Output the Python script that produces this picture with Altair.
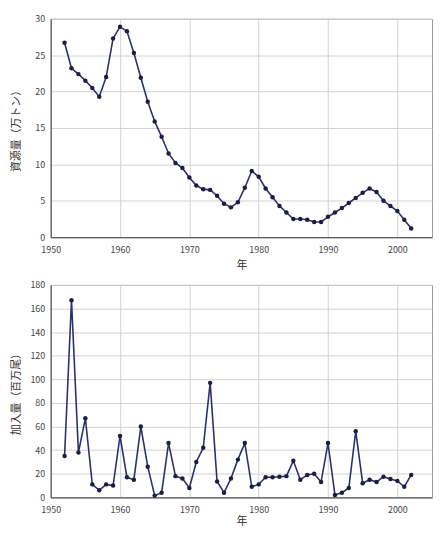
import altair as alt
import pandas as pd

years = list(range(1952, 2003))
biomass = [26.7, 23.2, 22.4, 21.5, 20.5, 19.3, 22.0, 27.3, 28.9, 28.3,
           25.3, 21.9, 18.6, 15.9, 13.8, 11.5, 10.2, 9.5, 8.2, 7.1,
           6.6, 6.5, 5.7, 4.6, 4.1, 4.8, 6.8, 9.1, 8.3, 6.7,
           5.5, 4.3, 3.4, 2.5, 2.5, 2.4, 2.1, 2.1, 2.8, 3.4,
           4.0, 4.7, 5.4, 6.1, 6.7, 6.2, 5.0, 4.3, 3.6, 2.4, 1.2]
recruit = [35, 167, 38, 67, 11, 6, 11, 10, 52, 17,
           15, 60, 26, 1.5, 4, 46, 18, 16, 8, 30,
           42, 97, 13.5, 4, 16, 32, 46, 9, 11, 17,
           17, 17.5, 18, 31, 15, 19, 20, 13, 46, 2,
           4, 8, 56, 12, 15, 13, 17.5, 15.5, 14, 9, 19]
x_ticks = [1950, 1960, 1970, 1980, 1990, 2000]
y1_ticks = [0, 5, 10, 15, 20, 25, 30]
y2_ticks = [0, 20, 40, 60, 80, 100, 120, 140, 160, 180]

df = pd.DataFrame({"year": years, "biomass": biomass, "recruit": recruit})

FONT = "Noto Sans CJK JP"
LINE = "#2b3170"
DOT = "#1c1d40"


def panel(field, title, ymax, ticks, h, title_y):
    x = alt.X("year:Q",
              scale=alt.Scale(domain=[1950, 2005], nice=False, zero=False),
              axis=alt.Axis(values=x_ticks, format="d", title="年",
                            labelFlush=False, labelPadding=8,
                            titleY=title_y, titleBaseline="middle"))
    y = alt.Y(f"{field}:Q",
              scale=alt.Scale(domain=[0, ymax], nice=False),
              axis=alt.Axis(values=ticks, title=title, labelPadding=6,
                            titleX=-34, titleBaseline="middle"))
    base = alt.Chart(df).encode(x=x, y=y)
    line = base.mark_line(color=LINE, strokeWidth=1.6)
    pts = base.mark_point(filled=True, color=DOT, size=20, opacity=1)
    return (line + pts).properties(width=384, height=h)


top = panel("biomass", "資源量（万トン）", 30, y1_ticks, 220, 28)
bottom = panel("recruit", "加入量（百万尾）", 180, y2_ticks, 214, 24)

chart = alt.vconcat(top, bottom, spacing=48, bounds="flush").properties(
    padding={"left": 2, "top": 4, "right": 0, "bottom": 0}
).configure(font=FONT).configure_view(
    stroke="#9a9a9a", strokeWidth=1
).configure_axis(
    labelFont=FONT, titleFont=FONT, labelFontSize=9, titleFontSize=11,
    labelColor="#444", titleColor="#333", titleFontWeight="normal",
    gridColor="#d2d2d2", gridWidth=1, domainColor="#444", tickSize=0
)

chart.save("out.html", embed_options={"renderer": "svg", "actions": False})
